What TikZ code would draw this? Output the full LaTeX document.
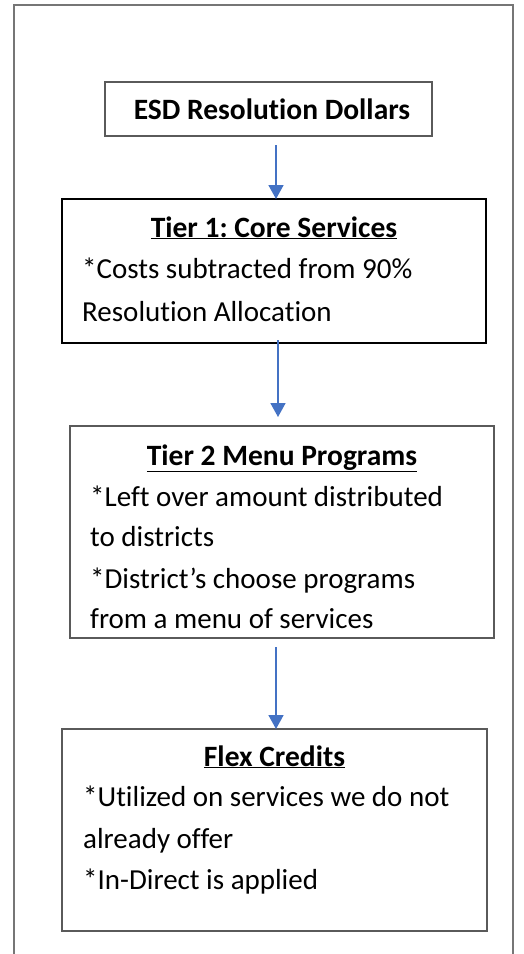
\documentclass[tikz,border=0pt]{standalone}
\usepackage{fontspec}
\setmainfont[Ligatures={NoCommon}]{Carlito}
\usetikzlibrary{arrows.meta}
\frenchspacing
\definecolor{arrblue}{HTML}{4472C4}
\definecolor{framegrey}{HTML}{767676}
\definecolor{boxgrey}{HTML}{5A5A5A}
\tikzset{
  boxnode/.style={draw=boxgrey, line width=1.2pt, rectangle, inner sep=0pt, outer sep=0pt, anchor=north west},
  arr/.style={draw=arrblue, line width=1.8pt, -{Triangle[width=15pt,length=14pt]}},
  ttl/.style={anchor=base, inner sep=0pt, font=\fontsize{29.5}{34}\selectfont\bfseries},
  bodytxt/.style={anchor=base west, inner sep=0pt, font=\fontsize{29}{34}\selectfont},
}
\begin{document}
\begin{tikzpicture}[x=1pt,y=-1pt]
\useasboundingbox (0,0) rectangle (523,954);
% outer frame (open at bottom)
\draw[framegrey, line width=1.2pt] (14,954) -- (14,5) -- (513,5) -- (513,954);
% boxes
\node[boxnode, minimum width=327pt, minimum height=54pt] (b1) at (105,82) {};
\node[boxnode, draw=black, minimum width=424pt, minimum height=144pt] (b2) at (62,199) {};
\node[boxnode, minimum width=424pt, minimum height=212pt] (b3) at (70,426) {};
\node[boxnode, minimum width=425pt, minimum height=202pt] (b4) at (62,729) {};
% texts
\node[ttl] (t1) at (272,119) {ESD Resolution Dollars};
\node[ttl] (t2) at (274,237) {\underline{Tier 1: Core Services}};
\node[bodytxt] (l21) at (82,278) {*Costs subtracted from 90\%};
\node[bodytxt] (l22) at (82,321) {Resolution Allocation};
\node[ttl] (t3) at (282,465) {\underline{Tier 2 Menu Programs}};
\node[bodytxt] (l31) at (90,506) {*Left over amount distributed};
\node[bodytxt] (l32) at (90,546) {to districts};
\node[bodytxt] (l33) at (90,588) {*District’s choose programs};
\node[bodytxt] (l34) at (90,628) {from a menu of services};
\node[ttl] (t4) at (274.5,766) {\underline{Flex Credits}};
\node[bodytxt] (l41) at (83,806) {*Utilized on services we do not};
\node[bodytxt] (l42) at (83,848) {already offer};
\node[bodytxt] (l43) at (83,889) {*In-Direct is applied};
% arrows
\coordinate (s1) at (276,145);
\coordinate (s2) at (278,340);
\coordinate (s3) at (276,647);
\draw[arr] (s1) -- (s1 |- b2.north);
\draw[arr] (s2) -- (s2 |- 0,417);
\draw[arr] (s3) -- (s3 |- b4.north);
\end{tikzpicture}
\end{document}
